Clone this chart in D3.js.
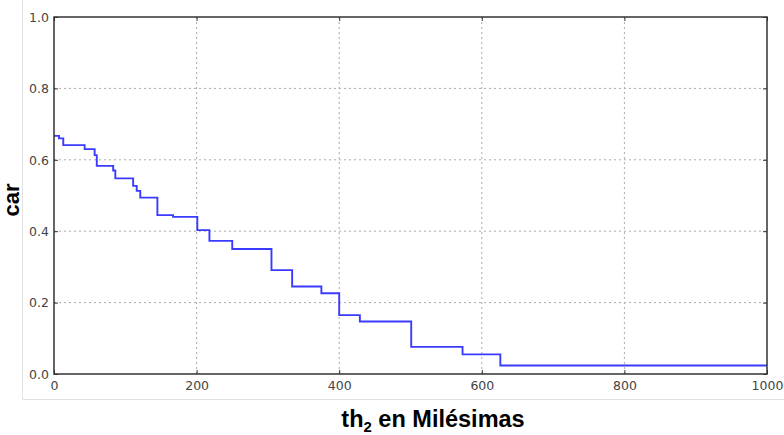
<!doctype html>
<html lang="es">
<head>
<meta charset="utf-8">
<title>car vs th2</title>
<script src="https://cdn.jsdelivr.net/npm/d3@7"></script>
<style>
  body { margin: 0; background: #fff; }
  .tick text { font: 12.5px "DejaVu Sans", sans-serif; fill: #444; }
  .grid line { stroke: #aaa; stroke-width: 1; stroke-dasharray: 2,3; }
  .axlabel { font: bold 22px "Liberation Sans", Arial, sans-serif; fill: #000; }
</style>
</head>
<body>
<div id="chart"></div>
<script>
// step points: x where the value changes, value from that x on
var stepX = [0, 7, 13, 43, 57, 60, 83, 86, 111, 116, 121, 145, 167, 201, 218, 250, 305, 334, 375, 400, 429, 501, 573, 626, 1000];
var stepY = [0.667, 0.660, 0.641, 0.630, 0.613, 0.583, 0.570, 0.548, 0.527, 0.513, 0.494, 0.445, 0.440, 0.403, 0.373, 0.350, 0.291, 0.245, 0.226, 0.165, 0.147, 0.076, 0.055, 0.024, 0.024];
var xTicks = [0, 200, 400, 600, 800, 1000];
var yTicks = [0.0, 0.2, 0.4, 0.6, 0.8, 1.0];

var W = 784, H = 435;
var m = {left: 54, right: 17, top: 17, bottom: 61};

var svg = d3.select("#chart").append("svg")
    .attr("width", W)
    .attr("height", H);

// faint frame of the pasted figure
svg.append("path")
    .attr("d", "M22.5,0V399.5H784")
    .attr("fill", "none")
    .attr("stroke", "#e2e2e2");

var x = d3.scaleLinear().domain([0, 1000]).range([m.left, W - m.right]);
var y = d3.scaleLinear().domain([0, 1]).range([H - m.bottom, m.top]);

// grid
svg.append("g").attr("class", "grid")
  .selectAll("line.v").data(xTicks.slice(1, -1)).enter().append("line")
    .attr("x1", function(d) { return x(d); }).attr("x2", function(d) { return x(d); })
    .attr("y1", y(0)).attr("y2", y(1));
svg.select(".grid")
  .selectAll("line.h").data(yTicks.slice(1, -1)).enter().append("line")
    .attr("x1", x(0)).attr("x2", x(1000))
    .attr("y1", function(d) { return y(d); }).attr("y2", function(d) { return y(d); });

// the step line
var line = d3.line()
    .x(function(d) { return x(d[0]); })
    .y(function(d) { return y(d[1]); })
    .curve(d3.curveStepAfter);

svg.append("path")
    .datum(stepX.map(function(v, i) { return [v, stepY[i]]; }))
    .attr("d", line)
    .attr("fill", "none")
    .attr("stroke", "#3b3bff")
    .attr("stroke-width", 1.9);

// axes, ticks inward
var xAxis = svg.append("g")
    .attr("transform", "translate(0," + y(0) + ")")
    .call(d3.axisBottom(x).tickValues(xTicks).tickSizeInner(-4).tickSizeOuter(0).tickPadding(8).tickFormat(d3.format("d")));
var yAxis = svg.append("g")
    .attr("transform", "translate(" + x(0) + ",0)")
    .call(d3.axisLeft(y).tickValues(yTicks).tickSizeInner(-4).tickSizeOuter(0).tickPadding(5).tickFormat(d3.format(".1f")));
svg.append("g")
    .attr("transform", "translate(0," + y(1) + ")")
    .call(d3.axisTop(x).tickValues(xTicks).tickSizeInner(-4).tickSizeOuter(0).tickFormat(""));
svg.append("g")
    .attr("transform", "translate(" + x(1000) + ",0)")
    .call(d3.axisRight(y).tickValues(yTicks).tickSizeInner(-4).tickSizeOuter(0).tickFormat(""));

svg.selectAll(".domain").remove();
svg.selectAll(".tick line").attr("stroke", "#333");
xAxis.selectAll(".tick text").attr("dy", "0.6em");
yAxis.selectAll(".tick text").attr("dy", "0.35em");

// frame
svg.append("rect")
    .attr("x", x(0)).attr("y", y(1))
    .attr("width", x(1000) - x(0)).attr("height", y(0) - y(1))
    .attr("fill", "none")
    .attr("stroke", "#333")
    .attr("stroke-width", 1.5);

// labels
var xl = svg.append("text").attr("class", "axlabel")
    .attr("x", 433).attr("y", 427)
    .style("font-size", "23.5px")
    .attr("text-anchor", "middle");
xl.append("tspan").text("th");
xl.append("tspan").style("font-size", "15px").attr("dy", 5).text("2");
xl.append("tspan").attr("dy", -5).text(" en Milésimas");

svg.append("text").attr("class", "axlabel")
    .attr("transform", "translate(19,200) rotate(-90)")
    .attr("text-anchor", "middle")
    .text("car");
</script>
</body>
</html>
